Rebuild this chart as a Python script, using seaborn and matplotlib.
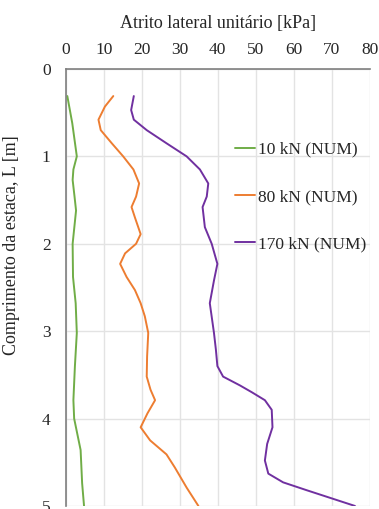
import matplotlib
matplotlib.use("Agg")
import matplotlib.pyplot as plt
import seaborn as sns
import pandas as pd

# ===================== dados =====================
L_10 = [0.31, 0.62, 1.00, 1.15, 1.27, 1.46, 1.62, 2.00, 2.38, 2.68, 3.02, 3.40, 3.79,
        4.00, 4.36, 4.74, 5.00]
q_10 = [0.4, 1.7, 2.9, 2.0, 1.8, 2.3, 2.7, 1.8, 1.9, 2.6, 2.9, 2.4, 2.0,
        2.2, 3.9, 4.3, 4.8]

L_80 = [0.31, 0.43, 0.58, 0.70, 0.85, 1.00, 1.15, 1.31, 1.46, 1.58, 1.70, 1.89, 2.00,
        2.11, 2.23, 2.38, 2.53, 2.68, 2.83, 3.02, 3.29, 3.52, 3.67, 3.79, 3.94, 4.10,
        4.25, 4.41, 4.56, 4.79, 5.00]
q_80 = [12.5, 10.3, 8.6, 9.2, 12.1, 15.1, 17.8, 19.3, 18.5, 17.3, 18.2, 19.7, 18.5,
        15.6, 14.3, 16.0, 18.2, 19.7, 20.8, 21.7, 21.4, 21.3, 22.3, 23.5, 21.5, 19.7,
        22.2, 26.5, 28.7, 31.8, 34.9]

L_170 = [0.31, 0.47, 0.58, 0.70, 0.85, 1.00, 1.15, 1.31, 1.46, 1.58, 1.81, 2.00, 2.23,
         2.42, 2.68, 3.02, 3.21, 3.40, 3.52, 3.62, 3.70, 3.79, 3.90, 4.10, 4.29, 4.48,
         4.63, 4.73, 4.82, 5.00]
q_170 = [17.9, 17.2, 17.9, 21.3, 26.5, 31.8, 35.3, 37.5, 37.1, 36.0, 36.6, 38.4, 39.9,
         39.0, 37.9, 39.0, 39.5, 39.9, 41.4, 45.8, 49.0, 52.4, 54.2, 54.4, 53.0, 52.4,
         53.3, 57.2, 63.4, 76.1]

series = ["10 kN (NUM)", "80 kN (NUM)", "170 kN (NUM)"]
cores = ["#70AD47", "#ED7D31", "#7030A0"]

x_ticks = [0, 10, 20, 30, 40, 50, 60, 70, 80]
y_ticks = [0, 1, 2, 3, 4, 5]

df = pd.concat([
    pd.DataFrame({"L": L_10, "q": q_10, "serie": series[0]}),
    pd.DataFrame({"L": L_80, "q": q_80, "serie": series[1]}),
    pd.DataFrame({"L": L_170, "q": q_170, "serie": series[2]}),
])

# ===================== gráfico =====================
sns.set_theme(style="white")
plt.rcParams['font.family'] = ['Liberation Serif', 'DejaVu Serif']

fig = plt.figure(figsize=(3.79, 5.09), dpi=100)
ax = fig.add_axes([0.1736, 0.006, 0.802, 0.8585])

sns.lineplot(data=df, x="q", y="L", hue="serie", palette=cores, hue_order=series,
             orient="y", estimator=None, sort=False, linewidth=1.4, ax=ax)
for ln in ax.lines:
    ln.set_solid_joinstyle("round")
    ln.set_solid_capstyle("round")

ax.set_xlim(0, 80)
ax.set_ylim(5, 0)
ax.set_xticks(x_ticks)
ax.set_yticks(y_ticks)
ax.xaxis.tick_top()
ax.xaxis.set_label_position("top")
ax.set_xlabel("Atrito lateral unitário [kPa]", fontsize=13, labelpad=10, color="#262626")
ax.set_ylabel("Comprimento da estaca, L [m]", fontsize=13, color="#262626")
# título do eixo y fica um pouco acima do centro, como no original
ax.yaxis.set_label_coords(-0.151, 0.597)
ax.tick_params(axis="x", labelsize=12.5, length=0, pad=8, colors="#262626")
ax.tick_params(axis="y", labelsize=12.5, length=0, pad=11, colors="#262626")

ax.grid(True, color="#E3E3E3", linewidth=1.0)
for s in ["right", "bottom"]:
    ax.spines[s].set_visible(False)
for s in ["left", "top"]:
    ax.spines[s].set_color("#7F7F7F")
    ax.spines[s].set_linewidth(1.2)

ax.legend(loc="upper left", bbox_to_anchor=(0.535, 0.85), frameon=False, fontsize=12.5,
          labelspacing=1.8, handlelength=1.15, handletextpad=0.15, borderaxespad=0)

plt.savefig("out.png", dpi=100)
